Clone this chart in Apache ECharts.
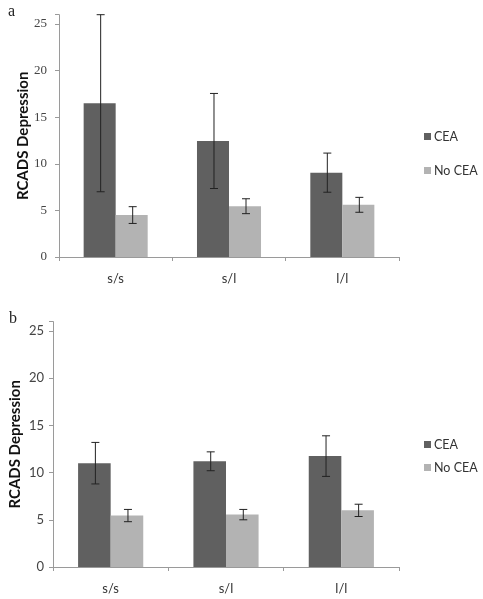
<!DOCTYPE html>
<html><head><meta charset="utf-8">
<script src="https://cdn.jsdelivr.net/npm/echarts@6/dist/echarts.min.js"></script>
<style>html,body{margin:0;padding:0;background:#fff}#c{width:483px;height:599px}</style>
</head><body><div id="c"></div>
<script>
const categories = ['s/s', 's/l', 'l/l'];
const seriesNames = ['CEA', 'No CEA'];
const yTicks = [0, 5, 10, 15, 20, 25];
// panel a
const aCEA = [16.5, 12.45, 9.05];
const aCEAerr = [9.5, 5.1, 2.1];
const aNoCEA = [4.5, 5.45, 5.6];
const aNoCEAerr = [0.9, 0.8, 0.8];
// panel b
const bCEA = [11.0, 11.2, 11.75];
const bCEAerr = [2.2, 1.0, 2.15];
const bNoCEA = [5.45, 5.55, 6.0];
const bNoCEAerr = [0.65, 0.55, 0.65];

const darkC = '#606060', lightC = '#b3b3b3', axisC = '#9a9a9a';
const gapPct = 0.435;

function errSeries(vals, errs, axisIdx, side) {
  return {
    type: 'custom', xAxisIndex: axisIdx, yAxisIndex: axisIdx, z: 5, silent: true,
    data: vals.map((v, i) => [i, v - errs[i], v + errs[i]]),
    renderItem: function (params, api) {
      const cw = api.size([1, 0])[0];
      const off = side * cw * (1 - gapPct) / 4;
      const lo = api.coord([api.value(0), api.value(1)]);
      const hi = api.coord([api.value(0), api.value(2)]);
      const x = lo[0] + off + 1;
      const h = 4;
      const st = { stroke: '#222', lineWidth: 1 };
      return { type: 'group', children: [
        { type: 'line', shape: { x1: x, y1: lo[1], x2: x, y2: hi[1] }, style: st },
        { type: 'line', shape: { x1: x - h, y1: lo[1], x2: x + h, y2: lo[1] }, style: st },
        { type: 'line', shape: { x1: x - h, y1: hi[1], x2: x + h, y2: hi[1] }, style: st }
      ]};
    }
  };
}

function xAx(idx) {
  return { type: 'category', gridIndex: idx, data: categories,
    axisLine: { lineStyle: { color: axisC, width: 1 } },
    axisTick: { show: true, alignWithLabel: false, length: 4, lineStyle: { color: axisC } },
    axisLabel: { color: '#333', fontFamily: 'Lato', fontSize: 13, margin: 15 } };
}
function yAx(idx, font, margin) {
  return { type: 'value', gridIndex: idx, min: 0, max: 26, interval: 5,
    name: 'RCADS Depression', nameLocation: 'middle', nameGap: idx === 0 ? 28 : 30,
    nameMoveOverlap: false,
    nameTextStyle: { fontFamily: 'Lato', fontWeight: 'bold', fontSize: 15, color: '#111' },
    axisLine: { show: true, lineStyle: { color: axisC } },
    axisTick: { show: true, length: 4, lineStyle: { color: axisC } },
    splitLine: { show: false },
    axisLabel: { color: '#444', fontFamily: font, fontSize: 13, margin: margin,
      formatter: v => (yTicks.indexOf(v) >= 0 ? String(v) : '') } };
}
function barS(name, data, idx, color) {
  return { type: 'bar', name: name, xAxisIndex: idx, yAxisIndex: idx, data: data,
    barGap: '0%', barCategoryGap: (gapPct * 100) + '%', itemStyle: { color: color }, silent: true };
}
function legend(top, gap) {
  return { orient: 'vertical', left: 419, top: top, itemWidth: 7, itemHeight: 7, icon: 'rect',
    itemGap: gap, data: seriesNames,
    textStyle: { fontFamily: 'Lato', fontSize: 12.5, color: '#333', padding: [0, 0, 0, -2] } };
}

const chart = echarts.init(document.getElementById('c'), null, { renderer: 'canvas' });
chart.setOption({
  animation: false,
  color: [darkC, lightC],
  grid: [
    { left: 59, right: 84, top: 14.7, bottom: 342 },
    { left: 53, right: 84, top: 321.6, bottom: 32 }
  ],
  xAxis: [xAx(0), xAx(1)],
  yAxis: [yAx(0, 'Liberation Serif', 12), yAx(1, 'Lato', 9)],
  legend: [legend(125, 21), legend(433, 10)],
  graphic: [
    { type: 'text', left: 8, top: 4, style: { text: 'a', font: '16px "Liberation Serif"', fill: '#222' } },
    { type: 'text', left: 9, top: 311, style: { text: 'b', font: '16px "Liberation Serif"', fill: '#222' } }
  ],
  series: [
    barS('CEA', aCEA, 0, darkC), barS('No CEA', aNoCEA, 0, lightC),
    barS('CEA', bCEA, 1, darkC), barS('No CEA', bNoCEA, 1, lightC),
    errSeries(aCEA, aCEAerr, 0, -1), errSeries(aNoCEA, aNoCEAerr, 0, 1),
    errSeries(bCEA, bCEAerr, 1, -1), errSeries(bNoCEA, bNoCEAerr, 1, 1)
  ]
});
</script></body></html>
